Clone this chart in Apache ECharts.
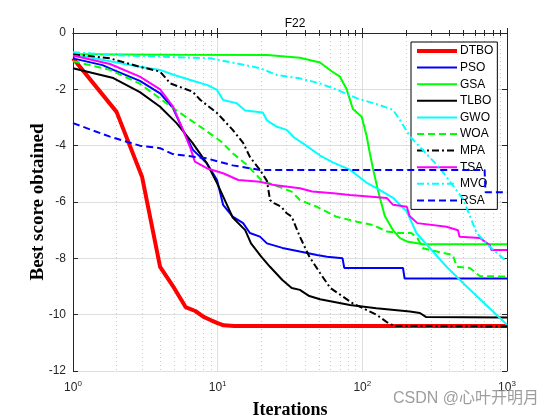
<!DOCTYPE html>
<html><head><meta charset="utf-8">
<script src="https://cdn.jsdelivr.net/npm/echarts@6/dist/echarts.min.js"></script>
<style>html,body{margin:0;padding:0;background:#fff}#c{width:560px;height:420px}</style>
</head><body><div id="c"></div>
<script>
const seriesNames = ['DTBO','PSO','GSA','TLBO','GWO','WOA','MPA','TSA','MVO','RSA'];
const dtbo = [[1,-0.9],[2,-2.8],[3,-5.1],[4,-8.3],[5,-9.05],[6,-9.73],[7,-9.87],[8,-10.08],[9,-10.2],[10,-10.3],[11,-10.38],[13,-10.4],[1000,-10.4]];
const pso = [[1,-0.9],[1.6,-1.14],[1.9,-1.31],[2.9,-1.7],[4,-2.14],[4.9,-2.66],[5.75,-3.44],[6.75,-4.15],[8.4,-4.62],[9.9,-5.22],[10.9,-6.1],[12.7,-6.52],[15,-6.75],[16.7,-7.1],[19.6,-7.23],[21.9,-7.47],[28,-7.63],[37,-7.76],[48.5,-7.88],[57,-7.94],[73,-8.0],[75,-8.34],[191,-8.34],[196,-8.72],[1000,-8.72]];
const gsa = [[1,-0.75],[5,-0.77],[22,-0.78],[37,-0.88],[51,-1.05],[61,-1.35],[70,-1.55],[78,-2.0],[86,-2.7],[99,-2.97],[107,-3.65],[113,-4.3],[119,-4.86],[128,-5.57],[143,-6.5],[163,-7.0],[182,-7.28],[203,-7.4],[263,-7.5],[1000,-7.5]];
const tlbo = [[1,-1.25],[1.9,-1.6],[2.9,-2.1],[4,-2.62],[5.2,-3.2],[6.7,-3.9],[8.4,-4.62],[9.9,-5.33],[11.6,-6.1],[12.7,-6.55],[15.5,-7.0],[17,-7.47],[20,-7.94],[23,-8.3],[28,-8.77],[32.5,-9.05],[37,-9.12],[43,-9.34],[51,-9.45],[82,-9.66],[125,-9.77],[213,-9.89],[250,-9.94],[275,-10.08],[1000,-10.1]];
const gwo = [[1,-0.75],[1.8,-1.0],[2.9,-1.2],[4,-1.31],[5,-1.49],[7.1,-1.73],[8.5,-1.85],[9.9,-2.02],[10.9,-2.38],[13.5,-2.49],[15.5,-2.75],[20.5,-2.82],[21.9,-3.1],[25.7,-3.33],[30,-3.44],[33.6,-3.7],[41,-4.0],[51,-4.35],[63,-4.6],[82,-4.85],[106,-5.3],[130,-5.55],[163,-5.85],[182,-6.1],[203,-6.34],[237,-7.11],[382,-8.3],[526,-9.0],[1000,-10.36]];
const woa = [[1,-1.0],[1.8,-1.31],[2.9,-1.8],[4.9,-2.66],[7.8,-3.37],[10.6,-3.86],[12.7,-4.27],[15.9,-4.68],[20,-5.22],[24.5,-5.4],[32.5,-5.63],[37,-5.93],[48.5,-6.17],[66,-6.52],[92,-6.7],[119,-6.82],[148,-7.05],[182,-7.1],[218,-7.1],[240,-7.28],[263,-7.64],[328,-7.76],[422,-7.88],[450,-8.3],[553,-8.34],[648,-8.63],[1000,-8.65]];
const mpa = [[1,-0.75],[1.8,-0.9],[2.9,-1.2],[4,-1.37],[4.5,-1.67],[4.7,-1.79],[6.7,-2.08],[7.6,-2.38],[9.9,-2.84],[12.7,-3.44],[15,-3.9],[16.7,-4.4],[19.6,-4.86],[21.9,-5.25],[22.6,-5.68],[23,-5.93],[24.5,-6.04],[27.5,-6.17],[30,-6.4],[32.5,-6.52],[37,-7.23],[43,-7.94],[51,-8.52],[60,-9.05],[86,-9.6],[125,-10.0],[154,-10.33],[170,-10.4],[1000,-10.42]];
const tsa = [[1,-0.8],[1.8,-1.1],[2.9,-1.55],[4,-2.0],[4.9,-2.6],[5.75,-3.44],[6.43,-4.04],[6.96,-4.57],[8.4,-4.8],[10.9,-4.98],[13.9,-5.22],[19.6,-5.28],[24.5,-5.4],[37,-5.51],[45,-5.63],[63,-5.69],[82,-5.75],[148,-5.86],[163,-6.1],[203,-6.17],[212,-6.5],[240,-6.75],[382,-6.88],[458,-7.0],[470,-7.23],[650,-7.28],[760,-7.53],[780,-7.7],[1000,-7.7]];
const mvo = [[1,-0.68],[1.8,-0.78],[4,-0.84],[8.9,-0.9],[13.6,-1.08],[19.6,-1.25],[25.7,-1.49],[37,-1.61],[51,-1.79],[67,-2.02],[92,-2.32],[132,-2.56],[163,-2.73],[182,-3.09],[214,-3.68],[344,-4.8],[497,-5.9],[617,-7.1],[760,-7.59],[1000,-8.12]];
const rsa = [[1,-3.2],[1.8,-3.68],[2.9,-4.0],[4,-4.09],[4.9,-4.3],[8.4,-4.45],[12.7,-4.7],[19.6,-4.86],[700,-4.86],[710,-5.65],[1000,-5.65]];

const seriesData = [dtbo,pso,gsa,tlbo,gwo,woa,mpa,tsa,mvo,rsa];
const colors = ['#FF0000','#0000FF','#00FF00','#000000','#00FFFF','#00FF00','#000000','#FF00FF','#00FFFF','#0000FF'];
const dashes = ['solid','solid','solid','solid','solid',[7,4],[7,3,2,3],'solid',[7,3,2,3],[7,4]];
const widths = [4,2,2,2,2,2,2,2,2,2];

const chart = echarts.init(document.getElementById('c'), null, {renderer:'canvas'});
const axisCol = '#262626';
const series = seriesNames.map((n,i)=>({
  name:n, type:'line', data:seriesData[i], xAxisIndex:0, yAxisIndex:0,
  symbol:'none', showSymbol:false, smooth:false,
  lineStyle:{color:colors[i], width:widths[i], type:dashes[i]},
  itemStyle:{color:colors[i]}, z:2+i
}));
chart.setOption({
  animation:false,
  backgroundColor:'#fff',
  title:{text:'F22', left:290, top:13, textAlign:'center',
    textStyle:{fontFamily:'Liberation Sans, Arial', fontSize:12, fontWeight:'normal', color:'#000'}},
  grid:{left:73, right:53, top:33, bottom:49, containLabel:false, outerBoundsMode:'none'},
  legend:{data:seriesNames.map((n,i)=>({name:n, lineStyle:{width:widths[i], color:colors[i], type:dashes[i]}})),
    orient:'vertical', left:411, top:42, padding:[3,4,3,4],
    itemWidth:40, itemHeight:12, itemGap:4.6,
    itemStyle:{opacity:0},
    backgroundColor:'#fff', borderColor:'#000', borderWidth:1,
    textStyle:{fontFamily:'Liberation Sans, Arial', fontSize:12, color:'#000', padding:[0,0,0,-2]}},
  xAxis:[{
    type:'log', logBase:10, min:1, max:1000, position:'bottom',
    name:'Iterations', nameLocation:'middle', nameGap:30,
    nameTextStyle:{fontFamily:'Liberation Serif, Times New Roman', fontWeight:'bold', fontSize:18, color:'#000'},
    axisLine:{show:true, lineStyle:{color:axisCol, width:1}},
    axisTick:{show:true, inside:true, length:5, lineStyle:{color:axisCol}},
    minorTick:{show:true, splitNumber:9, length:3, lineStyle:{color:axisCol}},
    minorSplitLine:{show:true, lineStyle:{color:'#c8c8c8', type:[1,3], width:1}},
    splitLine:{show:true, lineStyle:{color:'#dedede', width:1}},
    axisLabel:{margin:9, formatter:function(v){const e=Math.round(Math.log10(v));return '{b|10}{s|'+e+'}';},
      rich:{b:{fontFamily:'Liberation Sans, Arial', fontSize:12, color:axisCol},
            s:{fontFamily:'Liberation Sans, Arial', fontSize:8, color:axisCol, verticalAlign:'bottom', padding:[0,0,7,0]}}}
  },{
    type:'log', logBase:10, min:1, max:1000, position:'top',
    axisLine:{show:true, lineStyle:{color:axisCol, width:1}},
    axisTick:{show:true, inside:true, length:5, lineStyle:{color:axisCol}},
    minorTick:{show:true, splitNumber:9, length:3, lineStyle:{color:axisCol}},
    axisLabel:{show:false}, splitLine:{show:false}
  }],
  yAxis:[{
    type:'value', min:-12, max:0, interval:2, position:'left',
    name:'Best score obtained', nameLocation:'middle', nameGap:25, nameRotate:90, nameMoveOverlap:false,
    nameTextStyle:{fontFamily:'Liberation Serif, Times New Roman', fontWeight:'bold', fontSize:19, color:'#000'},
    axisLine:{show:true, lineStyle:{color:axisCol, width:1}},
    axisTick:{show:true, inside:true, length:5, lineStyle:{color:axisCol}},
    splitLine:{show:true, lineStyle:{color:'#dedede', width:1}},
    axisLabel:{margin:7, fontFamily:'Liberation Sans, Arial', fontSize:12, color:axisCol}
  },{
    type:'value', min:-12, max:0, interval:2, position:'right',
    axisLine:{show:true, lineStyle:{color:axisCol, width:1}},
    axisTick:{show:true, inside:true, length:5, lineStyle:{color:axisCol}},
    axisLabel:{show:false}, splitLine:{show:false}
  }],
  graphic:[{type:'text', left:393, top:391, z:100,
    style:{text:'CSDN @心叶开明月', fontSize:16, fontFamily:'Liberation Sans, Noto Sans CJK SC', fill:'rgba(140,140,140,0.85)'}}],
  series:series
});
</script></body></html>
